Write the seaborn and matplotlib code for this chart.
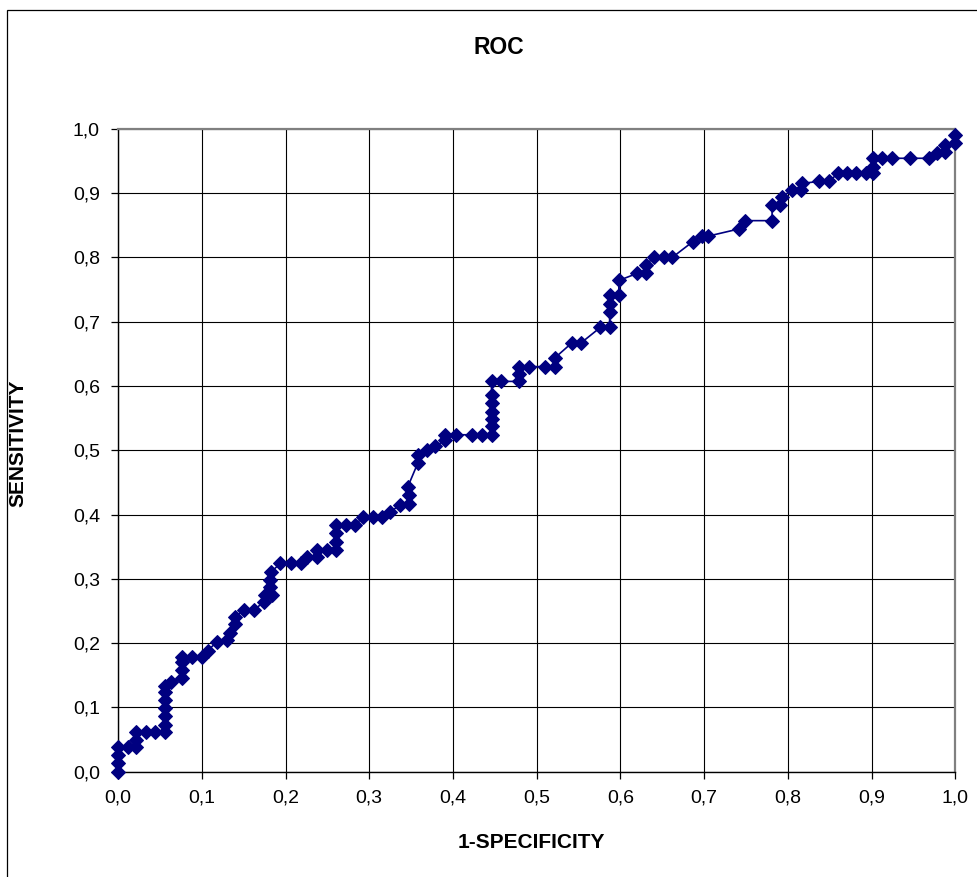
import matplotlib
matplotlib.use("Agg")
import matplotlib.pyplot as plt
from matplotlib.patches import Rectangle
import pandas as pd
import seaborn as sns

# ROC curve points: false positive rate (1-specificity) and true positive rate
fpr = [0.000, 0.000, 0.000, 0.000, 0.012, 0.021, 0.021, 0.021, 0.033, 0.044,
       0.056, 0.056, 0.056, 0.056, 0.056, 0.056, 0.056, 0.063, 0.077, 0.077,
       0.077, 0.077, 0.088, 0.100, 0.107, 0.118, 0.130, 0.134, 0.140, 0.140,
       0.150, 0.162, 0.174, 0.176, 0.184, 0.182, 0.182, 0.183, 0.194, 0.206,
       0.218, 0.226, 0.238, 0.238, 0.250, 0.260, 0.260, 0.260, 0.260, 0.272,
       0.283, 0.293, 0.304, 0.315, 0.325, 0.337, 0.347, 0.347, 0.346, 0.358,
       0.358, 0.369, 0.379, 0.391, 0.391, 0.403, 0.423, 0.435, 0.446, 0.446,
       0.446, 0.446, 0.446, 0.446, 0.446, 0.457, 0.479, 0.479, 0.479, 0.491,
       0.510, 0.522, 0.522, 0.542, 0.553, 0.576, 0.587, 0.587, 0.587, 0.587,
       0.598, 0.598, 0.620, 0.630, 0.630, 0.640, 0.652, 0.662, 0.686, 0.697,
       0.705, 0.741, 0.749, 0.781, 0.781, 0.791, 0.793, 0.805, 0.815, 0.817,
       0.837, 0.849, 0.860, 0.871, 0.881, 0.893, 0.902, 0.902, 0.902, 0.912,
       0.924, 0.946, 0.968, 0.978, 0.988, 0.988, 1.000, 1.000]
tpr = [0.000, 0.013, 0.026, 0.039, 0.039, 0.039, 0.050, 0.061, 0.061, 0.061,
       0.061, 0.073, 0.086, 0.099, 0.112, 0.124, 0.133, 0.140, 0.145, 0.158,
       0.170, 0.179, 0.179, 0.179, 0.188, 0.202, 0.205, 0.215, 0.230, 0.241,
       0.251, 0.251, 0.264, 0.275, 0.275, 0.288, 0.298, 0.311, 0.324, 0.324,
       0.324, 0.334, 0.334, 0.345, 0.345, 0.345, 0.358, 0.371, 0.384, 0.384,
       0.384, 0.396, 0.396, 0.396, 0.404, 0.415, 0.417, 0.430, 0.443, 0.480,
       0.493, 0.500, 0.506, 0.516, 0.524, 0.524, 0.524, 0.524, 0.524, 0.537,
       0.548, 0.560, 0.573, 0.586, 0.607, 0.607, 0.607, 0.618, 0.630, 0.630,
       0.630, 0.630, 0.644, 0.667, 0.667, 0.691, 0.691, 0.715, 0.728, 0.741,
       0.741, 0.764, 0.775, 0.775, 0.788, 0.800, 0.800, 0.800, 0.824, 0.833,
       0.833, 0.844, 0.857, 0.857, 0.881, 0.881, 0.894, 0.905, 0.905, 0.915,
       0.918, 0.918, 0.931, 0.931, 0.931, 0.931, 0.931, 0.941, 0.954, 0.954,
       0.954, 0.954, 0.954, 0.962, 0.964, 0.975, 0.977, 0.990]

tick_values = [0.0, 0.1, 0.2, 0.3, 0.4, 0.5, 0.6, 0.7, 0.8, 0.9, 1.0]
tick_labels = ["0,0", "0,1", "0,2", "0,3", "0,4", "0,5",
               "0,6", "0,7", "0,8", "0,9", "1,0"]

title_text = "ROC"
x_label = "1-SPECIFICITY"
y_label = "SENSITIVITY"

NAVY = "#000080"

sns.set_theme(style="white")
plt.rcParams["font.family"] = ["Liberation Sans", "DejaVu Sans"]
plt.rcParams["text.color"] = "black"
plt.rcParams["axes.labelcolor"] = "black"
plt.rcParams["xtick.color"] = "black"
plt.rcParams["ytick.color"] = "black"

df = pd.DataFrame({"fpr": fpr, "tpr": tpr})

fig = plt.figure(figsize=(9.78, 8.77), dpi=100)
fig.patch.set_facecolor("white")

# outer chart-area frame
fig.patches.append(Rectangle((7 / 978, -0.01), 1.02, 1 - 10 / 877 + 0.01,
                             transform=fig.transFigure, fill=False,
                             edgecolor="black", linewidth=0.9, zorder=0))

ax = fig.add_axes([118 / 978, 1 - 771.7 / 877, 837.5 / 978, 643 / 877])
ax.set_facecolor("white")

sns.lineplot(data=df, x="fpr", y="tpr", sort=False, estimator=None, ax=ax,
             color=NAVY, linewidth=1.2, marker="D", markersize=7.6,
             markeredgecolor=NAVY, markerfacecolor=NAVY, zorder=5,
             clip_on=False)

ax.set_xlim(0, 1)
ax.set_ylim(0, 1)
ax.set_xticks(tick_values)
ax.set_yticks(tick_values)
ax.set_xticklabels(tick_labels)
ax.set_yticklabels(tick_labels)

ax.grid(True, color="black", linewidth=0.8)
ax.set_axisbelow(True)

for side in ("left", "bottom"):
    ax.spines[side].set_color("black")
    ax.spines[side].set_linewidth(1.0)
for side in ("top", "right"):
    ax.spines[side].set_color("#808080")
    ax.spines[side].set_linewidth(1.6)

ax.tick_params(axis="both", which="major", direction="out", length=5,
               width=0.9, color="black", labelsize=14, labelcolor="black",
               bottom=True, left=True, pad=8)

ax.set_xlabel("")
ax.set_ylabel("")

fig.text(499 / 978, 1 - 48 / 877, title_text, ha="center", va="center",
         fontsize=16.5, fontweight="bold", color="black")
fig.text(531 / 978, 1 - 842 / 877, x_label, ha="center", va="center",
         fontsize=15, fontweight="bold", color="black")
fig.text(18 / 978, 1 - 443 / 877, y_label, ha="center", va="center",
         rotation=90, fontsize=15, fontweight="bold", color="black")

fig.savefig("out.png", dpi=100, facecolor="white")
